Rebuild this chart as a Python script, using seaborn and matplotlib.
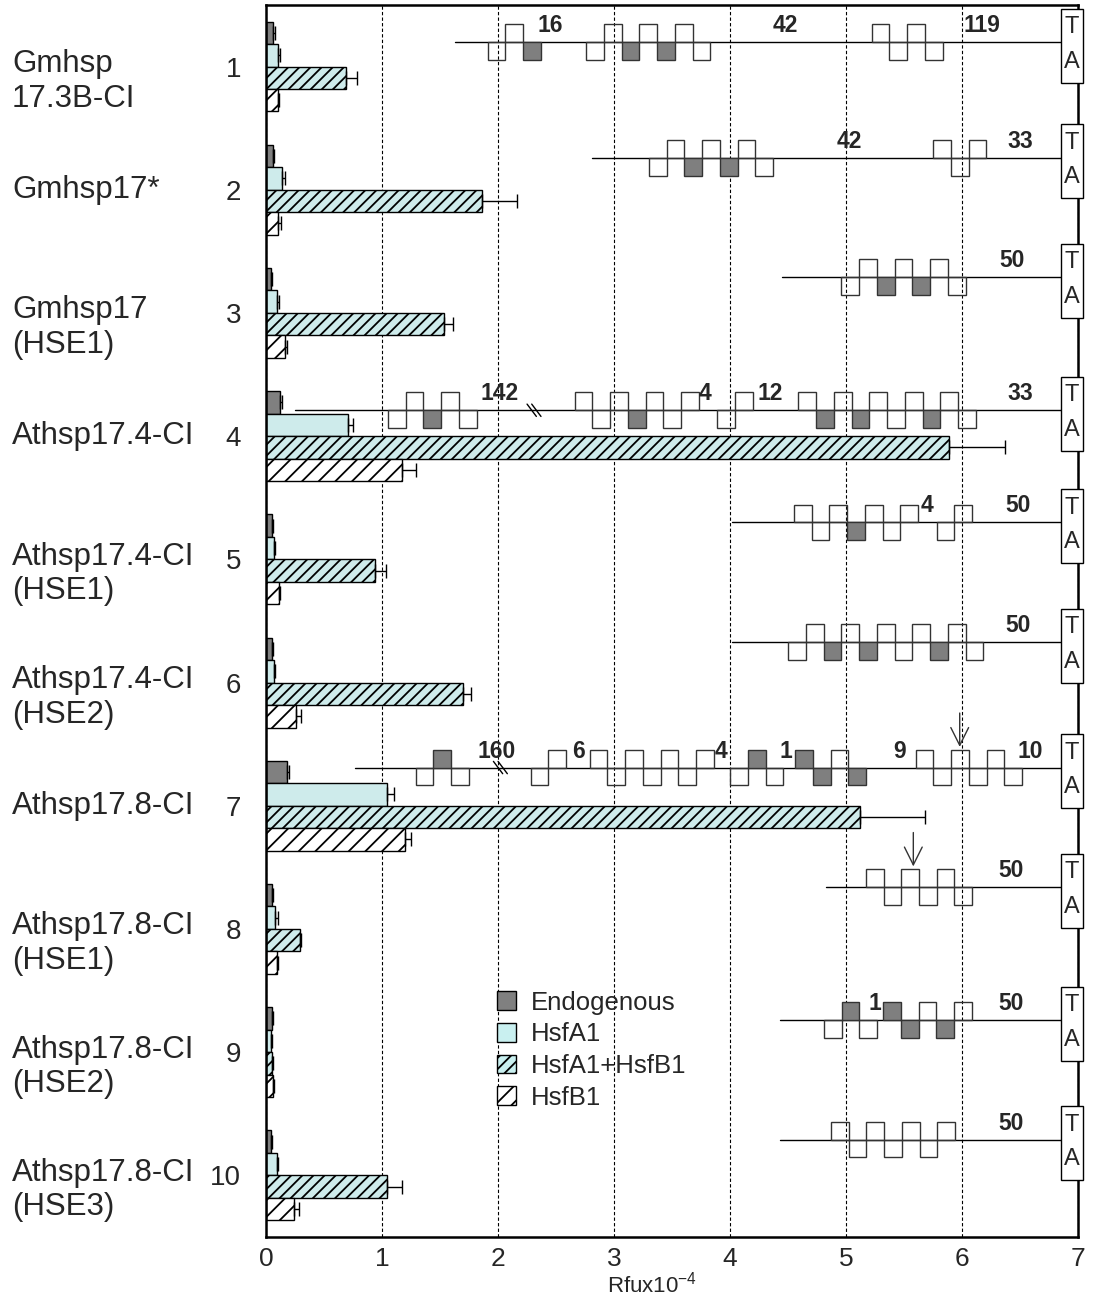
import numpy as np
import pandas as pd
import matplotlib
matplotlib.use('Agg')
import matplotlib.pyplot as plt
import matplotlib.transforms as mtransforms
from matplotlib.patches import Rectangle, Patch
import seaborn as sns

# constructs (top to bottom) and the treatments shown for each
constructs = ['Gmhsp\n17.3B-CI', 'Gmhsp17*', 'Gmhsp17\n(HSE1)', 'Athsp17.4-CI',
              'Athsp17.4-CI\n(HSE1)', 'Athsp17.4-CI\n(HSE2)', 'Athsp17.8-CI',
              'Athsp17.8-CI\n(HSE1)', 'Athsp17.8-CI\n(HSE2)', 'Athsp17.8-CI\n(HSE3)']
row_numbers = ['1', '2', '3', '4', '5', '6', '7', '8', '9', '10']
treatments = ['Endogenous', 'HsfA1', 'HsfA1+HsfB1', 'HsfB1']

# reporter activity (Rfu x 10^-4) and error (upper side only)
endogenous = [0.06, 0.06, 0.04, 0.12, 0.05, 0.05, 0.18, 0.05, 0.05, 0.04]
hsfa1 = [0.10, 0.14, 0.09, 0.71, 0.07, 0.07, 1.04, 0.08, 0.04, 0.09]
hsfa1_hsfb1 = [0.69, 1.86, 1.53, 5.89, 0.94, 1.70, 5.12, 0.29, 0.05, 1.04]
hsfb1 = [0.10, 0.10, 0.16, 1.17, 0.11, 0.26, 1.20, 0.09, 0.06, 0.24]
endogenous_err = [0.02, 0.01, 0.01, 0.02, 0.01, 0.01, 0.02, 0.01, 0.01, 0.01]
hsfa1_err = [0.02, 0.02, 0.02, 0.04, 0.01, 0.01, 0.06, 0.02, 0.01, 0.01]
hsfa1_hsfb1_err = [0.09, 0.30, 0.08, 0.48, 0.09, 0.07, 0.56, 0.01, 0.01, 0.13]
hsfb1_err = [0.01, 0.03, 0.02, 0.12, 0.01, 0.04, 0.05, 0.01, 0.01, 0.04]

# promoter diagrams: line start, HSE box runs (u/d open up/down, U/D filled), spacer labels
diagram_start = [1.63, 2.81, 4.45, 0.25, 4.02, 4.02, 0.77, 4.83, 4.43, 4.43]
diagram_boxes = [
    [(1.91, 'duD'), (2.76, 'duDuDud'), (5.22, 'udud')],
    [(3.30, 'duDuDud'), (5.75, 'udu')],
    [(4.96, 'duDuDud')],
    [(1.05, 'duDud'), (2.66, 'uduDudu'), (3.89, 'du'), (4.59, 'uDuDuduDud')],
    [(4.55, 'uduDudu'), (5.78, 'du')],
    [(4.50, 'duDuDuduDud')],
    [(1.29, 'dUd'), (2.28, 'du'), (2.79, 'udududu'), (4.00, 'dUd'), (4.56, 'UDuD'), (5.60, 'ududud')],
    [(5.17, 'ududud')],
    [(4.81, 'dUd'), (5.32, 'UDuDu')],
    [(4.87, 'udududu')],
]
diagram_labels = [
    [(2.45, '16'), (4.48, '42'), (6.17, '119')],
    [(5.03, '42'), (6.50, '33')],
    [(6.43, '50')],
    [(2.01, '142'), (3.78, '4'), (4.35, '12'), (6.50, '33')],
    [(5.70, '4'), (6.48, '50')],
    [(6.48, '50')],
    [(1.99, '160'), (2.69, '6'), (3.92, '4'), (4.48, '1'), (5.46, '9'), (6.59, '10')],
    [(6.42, '50')],
    [(5.25, '1'), (6.42, '50')],
    [(6.42, '50')],
]
break_marks = [(3, 2.31), (6, 2.02)]
arrow_marks = [(6, 5.98), (7, 5.58)]

# layout of the diagrams (vertical offset of the promoter line from each row centre)
line_offset = [-0.20, -0.26, -0.29, -0.21, -0.30, -0.33, -0.31, -0.34, -0.26, -0.29]
box_w = 0.153
box_h = 0.145

narrow = ['Liberation Sans Narrow', 'Liberation Sans', 'DejaVu Sans']
sans = ['Liberation Sans', 'DejaVu Sans']

sns.set_style('white')
plt.rcParams['font.family'] = sans
plt.rcParams['mathtext.default'] = 'regular'
plt.rcParams['hatch.linewidth'] = 1.3

values = [endogenous, hsfa1, hsfa1_hsfb1, hsfb1]
errors = [endogenous_err, hsfa1_err, hsfa1_hsfb1_err, hsfb1_err]
df = pd.DataFrame({
    'row': row_numbers * 4,
    'treatment': np.repeat(treatments, len(row_numbers)),
    'value': np.concatenate(values),
})

colors = ['#808080', '#C9F0F0', '#C9F0F0', 'white']
hatches = [None, None, '///', '//']

fig = plt.figure(figsize=(10.95, 12.97), dpi=100)
ax = fig.add_axes([0.243, 0.0463, 0.7415, 0.9499])

sns.barplot(data=df, x='value', y='row', hue='treatment', hue_order=treatments,
            order=row_numbers, orient='h', palette=colors, width=0.73,
            errorbar=None, edgecolor='black', linewidth=1, legend=False, ax=ax)

bar_containers = list(ax.containers)
for k, cont in enumerate(bar_containers):
    ys, xs = [], []
    for bar in cont:
        if hatches[k]:
            bar.set_hatch(hatches[k])
        ys.append(bar.get_y() + bar.get_height() / 2)
        xs.append(bar.get_width())
    ax.errorbar(xs, ys, xerr=[np.zeros(len(xs)), errors[k]], fmt='none',
                ecolor='black', elinewidth=1, capsize=5, capthick=1, zorder=3)

ax.set_xlim(0, 7)
ax.set_ylim(9.5, -0.5)
ax.set_axisbelow(True)
ax.xaxis.grid(True, linestyle=(0, (3, 2)), color='black', linewidth=0.8)
ax.yaxis.grid(False)
for s in ax.spines.values():
    s.set_visible(True)
    s.set_color('black')
    s.set_linewidth(1.8)

ax.set_xticks(range(8))
ax.set_xticklabels([str(i) for i in range(8)], fontsize=19, family=narrow)
ax.tick_params(axis='x', direction='out', length=4, width=1, pad=3)
ax.set_yticks(range(10))
ax.set_yticklabels(row_numbers, fontsize=20)
ax.tick_params(axis='y', which='major', length=0, pad=18)
ax.set_yticks(np.arange(-0.5, 10, 1), minor=True)
ax.tick_params(axis='y', which='minor', length=5, width=1, direction='out')
ax.set_xlabel('Rfux10$^{-4}$', fontsize=16, family=narrow)
ax.xaxis.set_label_coords(0.475, -0.028)
ax.set_ylabel('')

# construct names at the far left
blend = mtransforms.blended_transform_factory(fig.transFigure, ax.transData)
for i, name in enumerate(constructs):
    dy = 0.12 if '\n' in name else 0
    ax.text(0.011, i + dy, name, transform=blend, ha='left', va='center',
            fontsize=22.5, linespacing=1.2)

# promoter diagrams
for i in range(len(row_numbers)):
    ly = i + line_offset[i]
    ax.plot([diagram_start[i], 6.85], [ly, ly], color='black', lw=1, zorder=4)
    for x0, pattern in diagram_boxes[i]:
        for j, c in enumerate(pattern):
            x = x0 + j * box_w
            y = ly - box_h if c in 'uU' else ly
            fc = '#7f7f7f' if c.isupper() else 'none'
            ax.add_patch(Rectangle((x, y), box_w, box_h, facecolor=fc,
                                   edgecolor='#333333', lw=1, zorder=5))
    for x, lab in diagram_labels[i]:
        ax.text(x, ly - 0.04, lab, ha='center', va='bottom', fontsize=16.5,
                fontweight='bold', family=narrow, zorder=6)
    ax.add_patch(Rectangle((6.85, ly - 0.27), 0.19, 0.60, facecolor='white',
                           edgecolor='black', lw=1, zorder=6, clip_on=False))
    ax.text(6.945, ly - 0.12, 'T', ha='center', va='center', fontsize=17, zorder=7)
    ax.text(6.945, ly + 0.16, 'A', ha='center', va='center', fontsize=17, zorder=7)

for i, x in break_marks:
    ly = i + line_offset[i]
    for dx in (-0.02, 0.02):
        ax.plot([x + dx - 0.04, x + dx + 0.04], [ly - 0.05, ly + 0.05],
                color='black', lw=1, zorder=6)

for i, x in arrow_marks:
    ly = i + line_offset[i]
    ax.annotate('', xy=(x, ly - box_h), xytext=(x, ly - box_h - 0.32),
                arrowprops=dict(arrowstyle='->', lw=1, color='#333333',
                                mutation_scale=32), zorder=7)

handles = [Patch(facecolor=colors[k], edgecolor='black', hatch=hatches[k], label=t)
           for k, t in enumerate(treatments)]
ax.legend(handles=handles, loc='upper left', bbox_to_anchor=(0.2845, 0.2),
          frameon=False, fontsize=18.5, handlelength=0.75, handleheight=0.75,
          labelspacing=0.3, handletextpad=0.55, borderpad=0, borderaxespad=0)

fig.savefig('out.png', dpi=100)
